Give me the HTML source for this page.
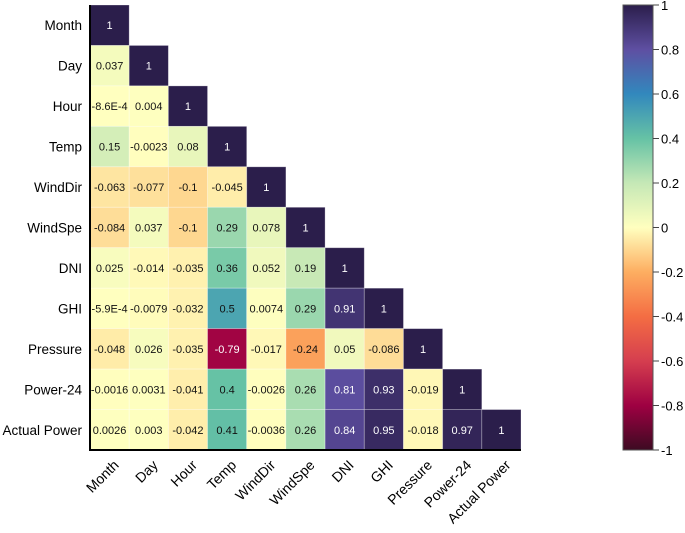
<!DOCTYPE html>
<html><head><meta charset="utf-8"><style>
html,body{margin:0;padding:0;background:#fff;}
svg{display:block;font-family:"Liberation Sans",Arial,sans-serif;}
</style></head><body>
<svg id="chart" width="685" height="533" viewBox="0 0 685 533">
<defs>
<linearGradient id="cbgrad" x1="0" y1="1" x2="0" y2="0">
<stop offset="0" stop-color="#3d0a22"/><stop offset="0.1" stop-color="#9e0142"/>
<stop offset="0.2" stop-color="#d53e4f"/><stop offset="0.3" stop-color="#f46d43"/>
<stop offset="0.4" stop-color="#fdae61"/><stop offset="0.5" stop-color="#ffffbf"/>
<stop offset="0.6" stop-color="#c5e8b6"/><stop offset="0.7" stop-color="#66c2a5"/>
<stop offset="0.8" stop-color="#3288bd"/><stop offset="0.9" stop-color="#5e4fa2"/>
<stop offset="1" stop-color="#2b1e4b"/>
</linearGradient>
</defs>
</svg>
<script>
const labels = ["Month","Day","Hour","Temp","WindDir","WindSpe","DNI","GHI","Pressure","Power-24","Actual Power"];
const rowValues = [
 [1],
 [0.037,1],
 [-0.00086,0.004,1],
 [0.15,-0.0023,0.08,1],
 [-0.063,-0.077,-0.1,-0.045,1],
 [-0.084,0.037,-0.1,0.29,0.078,1],
 [0.025,-0.014,-0.035,0.36,0.052,0.19,1],
 [-0.00059,-0.0079,-0.032,0.5,0.0074,0.29,0.91,1],
 [-0.048,0.026,-0.035,-0.79,-0.017,-0.24,0.05,-0.086,1],
 [-0.0016,0.0031,-0.041,0.4,-0.0026,0.26,0.81,0.93,-0.019,1],
 [0.0026,0.003,-0.042,0.41,-0.0036,0.26,0.84,0.95,-0.018,0.97,1]
];
const printed = [
 ["1"],
 ["0.037","1"],
 ["-8.6E-4","0.004","1"],
 ["0.15","-0.0023","0.08","1"],
 ["-0.063","-0.077","-0.1","-0.045","1"],
 ["-0.084","0.037","-0.1","0.29","0.078","1"],
 ["0.025","-0.014","-0.035","0.36","0.052","0.19","1"],
 ["-5.9E-4","-0.0079","-0.032","0.5","0.0074","0.29","0.91","1"],
 ["-0.048","0.026","-0.035","-0.79","-0.017","-0.24","0.05","-0.086","1"],
 ["-0.0016","0.0031","-0.041","0.4","-0.0026","0.26","0.81","0.93","-0.019","1"],
 ["0.0026","0.003","-0.042","0.41","-0.0036","0.26","0.84","0.95","-0.018","0.97","1"]
];
const cbTicks = [1,0.8,0.6,0.4,0.2,0,-0.2,-0.4,-0.6,-0.8,-1];

const NS="http://www.w3.org/2000/svg";
const svg=document.getElementById('chart');
const X0=90,X1=521,Y0=5,Y1=450;
const cw=(X1-X0)/labels.length, ch=(Y1-Y0)/labels.length;
const xPos=i=>X0+i*cw, yPos=i=>Y0+i*ch;
const stops=[[-1,[61,10,34]],[-0.8,[158,1,66]],[-0.6,[213,62,79]],[-0.4,[244,109,67]],[-0.2,[253,174,97]],[0,[255,255,191]],[0.2,[197,232,182]],[0.4,[102,194,165]],[0.6,[50,136,189]],[0.8,[94,79,162]],[1,[43,30,75]]];
function color(v){
 for(let i=0;i<stops.length-1;i++){const a=stops[i],b=stops[i+1];
  if(v<=b[0]){const t=(v-a[0])/(b[0]-a[0]);const c=a[1].map((x,k)=>Math.round(x+(b[1][k]-x)*t));return `rgb(${c})`;}}
 return 'rgb(43,30,75)';
}
function el(tag,attrs){const e=document.createElementNS(NS,tag);for(const k in attrs)e.setAttribute(k,attrs[k]);svg.appendChild(e);return e;}
const cbY=v=>Y0+(1-v)/2*(Y1-Y0);

rowValues.forEach((row,r)=>{
 row.forEach((v,c)=>{
  const rect=el('rect',{x:xPos(c),y:yPos(r),width:cw,height:ch,fill:color(v),stroke:'rgba(255,255,255,0.35)','stroke-width':0.8});
  
  
  const t=el('text',{x:xPos(c)+cw/2,y:yPos(r)+ch/2+4,'text-anchor':'middle','font-size':'11',fill:(Math.abs(v)>0.6)?'#fff':'#111'});
  t.textContent=printed[r][c];
  
  
 });
});
labels.forEach((l,i)=>{
 const t=el('text',{x:82,y:yPos(i)+ch/2+5,'text-anchor':'end','font-size':'13.5',fill:'#000'});
 t.textContent=l;
 
 
 const cx=xPos(i)+cw/2+10, cy=Y1+16;
 const u=el('text',{x:cx,y:cy,'text-anchor':'end','font-size':'14',fill:'#000',transform:`rotate(-45 ${cx} ${cy})`});
 u.textContent=l;
 
 
});
const ax=el('path',{d:`M${X0} ${Y0}V${Y1}H${X1}`,fill:'none',stroke:'#000','stroke-width':2});


const cb=el('rect',{x:623,y:Y0,width:30,height:Y1-Y0,fill:'url(#cbgrad)',stroke:'#555','stroke-width':1});


cbTicks.forEach(v=>{
 const y=cbY(v);
 const tk=el('line',{x1:653,x2:659,y1:y,y2:y,stroke:'#444','stroke-width':1});
 
 
 const t=el('text',{x:661,y:y+5,'font-size':'13',fill:'#000'});
 t.textContent=String(v);
 
 
});
</script>
</body></html>
